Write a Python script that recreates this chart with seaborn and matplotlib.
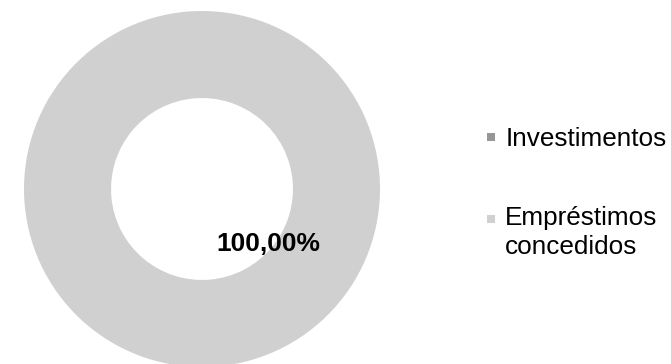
import matplotlib
matplotlib.use("Agg")
import matplotlib.pyplot as plt
import seaborn as sns
from matplotlib.lines import Line2D
from matplotlib.legend_handler import HandlerLine2D
from matplotlib.transforms import Affine2D

# Portfolio composition
categories = ["Investimentos", "Empréstimos\nconcedidos"]
values = [0.0, 100.0]
slice_colors = ["#969696", "#d0d0d0"]

sns.set_theme(style="white")
plt.rcParams["font.family"] = ["Liberation Sans", "DejaVu Sans"]

W, H, DPI = 671, 364, 100
fig = plt.figure(figsize=(W / DPI, H / DPI), dpi=DPI)
fig.patch.set_facecolor("white")

# Donut centred at (202, 189) px with radius 178 px
cx, cy, r = 202, 189, 178
ax = fig.add_axes([(cx - r) / W, (H - cy - r) / H, 2 * r / W, 2 * r / H])


def fmt_pct(p):
    return "" if p < 0.005 else f"{p:.2f}%".replace(".", ",")


wedges, _, autotexts = ax.pie(
    values,
    colors=slice_colors,
    radius=1.0,
    startangle=140,
    counterclock=True,
    autopct=fmt_pct,
    pctdistance=0.485,
    wedgeprops=dict(width=0.489, linewidth=0),
    textprops=dict(fontsize=19, fontweight="bold", color="black"),
)
ax.set_xlim(-1, 1)
ax.set_ylim(-1, 1)
ax.axis("off")


class FirstLineHandler(HandlerLine2D):
    """Puts the legend marker beside the first line of a multi-line label."""

    def __init__(self, shift=0.0, **kw):
        super().__init__(**kw)
        self.shift = shift

    def create_artists(self, legend, orig_handle, xdescent, ydescent,
                       width, height, fontsize, trans):
        arts = super().create_artists(legend, orig_handle, xdescent, ydescent,
                                      width, height, fontsize, trans)
        for a in arts:
            a.set_transform(a.get_transform() + Affine2D().translate(0, self.shift))
        return arts


handles = [
    Line2D([], [], linestyle="none", marker="s", markersize=6,
           markerfacecolor=c, markeredgewidth=0)
    for c in slice_colors
]

leg = fig.legend(
    handles, categories,
    loc="center left",
    bbox_to_anchor=(483 / W, 1 - 193 / H),
    frameon=False,
    fontsize=18.8,
    handlelength=0.6,
    handletextpad=0.25,
    labelspacing=2.1,
    borderpad=0,
    borderaxespad=0,
    handler_map={handles[1]: FirstLineHandler(shift=13.5)},
)
for t in leg.get_texts():
    t.set_linespacing(1.22)
    t.set_color("black")

fig.savefig("out.png", dpi=DPI, facecolor="white")
